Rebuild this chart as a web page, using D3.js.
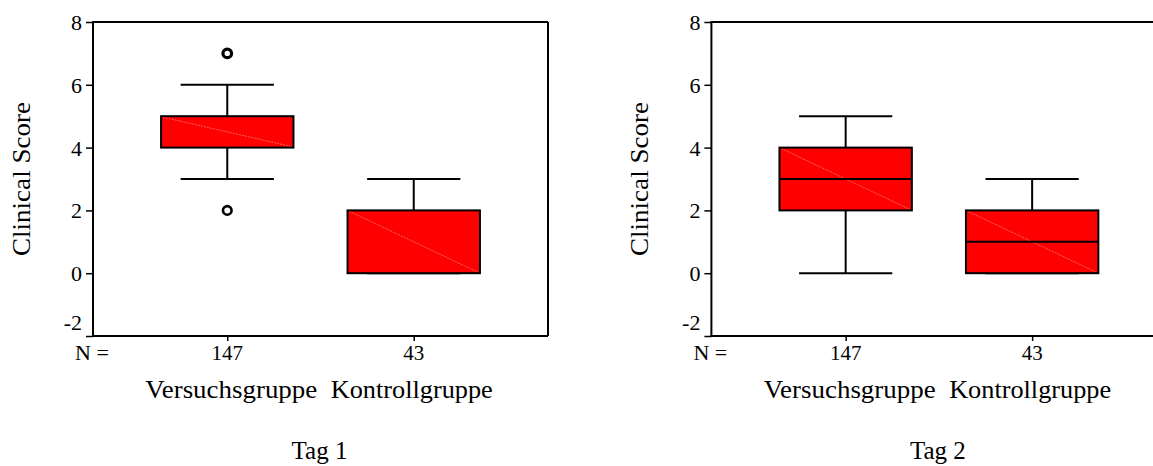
<!DOCTYPE html>
<html>
<head>
<meta charset="utf-8">
<script src="https://cdn.jsdelivr.net/npm/d3@7"></script>
<style>
  html, body { margin: 0; padding: 0; background: #fff; }
  svg { display: block; }
  svg text { font-family: "Liberation Serif", "Times New Roman", serif; fill: #000; }
</style>
</head>
<body>
<svg id="chart" width="1153" height="466"></svg>
<script>
// ---- data ----
const categories = ["Versuchsgruppe", "Kontrollgruppe"];
const counts = [147, 43];
const days = ["Tag 1", "Tag 2"];
const yTicks = [-2, 0, 2, 4, 6, 8];
// five-number summaries per day: [whiskerLow, q1, median, q3, whiskerHigh]
const day1Stats = [[3, 4, 4, 5, 6], [0, 0, 0, 2, 3]];
const day2Stats = [[0, 2, 3, 4, 5], [0, 0, 1, 2, 3]];
const day1Outliers = [[2, 7], []];
const day2Outliers = [[], []];
const yLabel = "Clinical Score";

const panels = [
  { title: days[0], stats: day1Stats, outliers: day1Outliers, showMedian: [false, false] },
  { title: days[1], stats: day2Stats, outliers: day2Outliers, showMedian: [true, true] }
];

const svg = d3.select("#chart");
const panelOffset = 618.4;
const plotLeft = 93, plotRight = 548, plotTop = 22, plotBottom = 336;
const serif = "'Liberation Serif', 'Times New Roman', serif";

const x = d3.scalePoint().domain(categories).range([plotLeft, plotRight]).padding(0.72);
const y = d3.scaleLinear().domain([-2, 8]).range([plotBottom, plotTop]);
const step = x.step();
const boxW = step * 0.71;
const capW = step * 0.5;

function txt(sel, size) {
  return sel.style("font-family", serif).style("font-size", size + "px").style("fill", "#000");
}

panels.forEach((p, pi) => {
  const g = svg.append("g").attr("transform", `translate(${pi * panelOffset},0)`);

  // boxes
  p.stats.forEach((s, i) => {
    const cx = x(categories[i]);
    const [lo, q1, med, q3, hi] = s;
    const bg = g.append("g");
    bg.append("line").attr("x1", cx).attr("x2", cx).attr("y1", y(hi)).attr("y2", y(q3))
      .attr("stroke", "#000").attr("stroke-width", 2);
    bg.append("line").attr("x1", cx).attr("x2", cx).attr("y1", y(q1)).attr("y2", y(lo))
      .attr("stroke", "#000").attr("stroke-width", 2);
    bg.append("line").attr("x1", cx - capW / 2).attr("x2", cx + capW / 2).attr("y1", y(hi)).attr("y2", y(hi))
      .attr("stroke", "#000").attr("stroke-width", 2);
    bg.append("line").attr("x1", cx - capW / 2).attr("x2", cx + capW / 2).attr("y1", y(lo)).attr("y2", y(lo))
      .attr("stroke", "#000").attr("stroke-width", 2);
    bg.append("rect").attr("x", cx - boxW / 2).attr("y", y(q3)).attr("width", boxW).attr("height", y(q1) - y(q3))
      .attr("fill", "#ff0000").attr("stroke", "none");
    bg.append("line").attr("x1", cx - boxW / 2 + 2).attr("y1", y(q3) + 1).attr("x2", cx + boxW / 2 - 2).attr("y2", y(q1) - 1)
      .attr("stroke", "#ff8a8a").attr("stroke-width", 0.7).attr("stroke-dasharray", "2,1");
    bg.append("rect").attr("x", cx - boxW / 2).attr("y", y(q3)).attr("width", boxW).attr("height", y(q1) - y(q3))
      .attr("fill", "none").attr("stroke", "#000").attr("stroke-width", 2);
    if (p.showMedian[i]) {
      bg.append("line").attr("x1", cx - boxW / 2).attr("x2", cx + boxW / 2).attr("y1", y(med)).attr("y2", y(med))
        .attr("stroke", "#000").attr("stroke-width", 2);
    }
    p.outliers[i].forEach(v => {
      bg.append("circle").attr("cx", cx).attr("cy", y(v)).attr("r", 4.3)
        .attr("fill", "#fff").attr("stroke", "#000").attr("stroke-width", v === 7 ? 3.2 : 2.6);
    });
  });

  // frame
  g.append("line").attr("x1", plotLeft).attr("x2", plotRight).attr("y1", plotTop).attr("y2", plotTop)
    .attr("stroke", "#000").attr("stroke-width", 2);
  g.append("line").attr("x1", plotRight).attr("x2", plotRight).attr("y1", plotTop).attr("y2", plotBottom)
    .attr("stroke", "#000").attr("stroke-width", 2);

  // y axis
  const yAxis = d3.axisLeft(y).tickValues(yTicks).tickSize(7).tickPadding(4).tickFormat(d => String(d));
  const ya = g.append("g").attr("transform", `translate(${plotLeft},0)`).call(yAxis)
    .attr("font-family", null).attr("font-size", null);
  ya.select(".domain").attr("stroke-width", 2).attr("d", `M0,${plotTop - 1}V${plotBottom + 1}`);
  ya.selectAll(".tick line").attr("stroke-width", 1.5);
  txt(ya.selectAll(".tick text"), 22).attr("dy", "0.34em");
  // lowest label sits raised above the bottom edge, as in the reference
  ya.selectAll(".tick text").filter(d => d === yTicks[0]).attr("dy", "-0.28em");

  // x axis
  const xAxis = d3.axisBottom(x).tickSize(5).tickFormat(() => "");
  const xa = g.append("g").attr("transform", `translate(0,${plotBottom})`).call(xAxis);
  xa.select(".domain").attr("stroke-width", 2).attr("d", `M${plotLeft - 1},0H${plotRight}`);
  xa.selectAll(".tick line").attr("stroke-width", 1.5);

  // N row
  txt(g.append("text").attr("x", 75).attr("y", 360), 22).text("N =");
  categories.forEach((c, i) => {
    txt(g.append("text").attr("x", x(c)).attr("y", 360).attr("text-anchor", "middle"), 21).text(counts[i]);
  });

  // category labels
  const catLen = [172, 162];
  const catDx = [4, -2];
  categories.forEach((c, i) => {
    txt(g.append("text").attr("x", x(c) + catDx[i]).attr("y", 397.5)
      .attr("text-anchor", "middle").attr("textLength", catLen[i]).attr("lengthAdjust", "spacingAndGlyphs"), 24.5).text(c);
  });

  // y label
  txt(g.append("text").attr("transform", `translate(30,${(plotTop + plotBottom) / 2}) rotate(-90)`)
    .attr("text-anchor", "middle")
    .attr("textLength", 154).attr("lengthAdjust", "spacingAndGlyphs"), 25).text(yLabel);

  // panel title
  const mid = (x(categories[0]) + x(categories[1])) / 2;
  txt(g.append("text").attr("x", mid - 1).attr("y", 459).attr("text-anchor", "middle"), 25).text(p.title);
});
</script>
</body>
</html>
